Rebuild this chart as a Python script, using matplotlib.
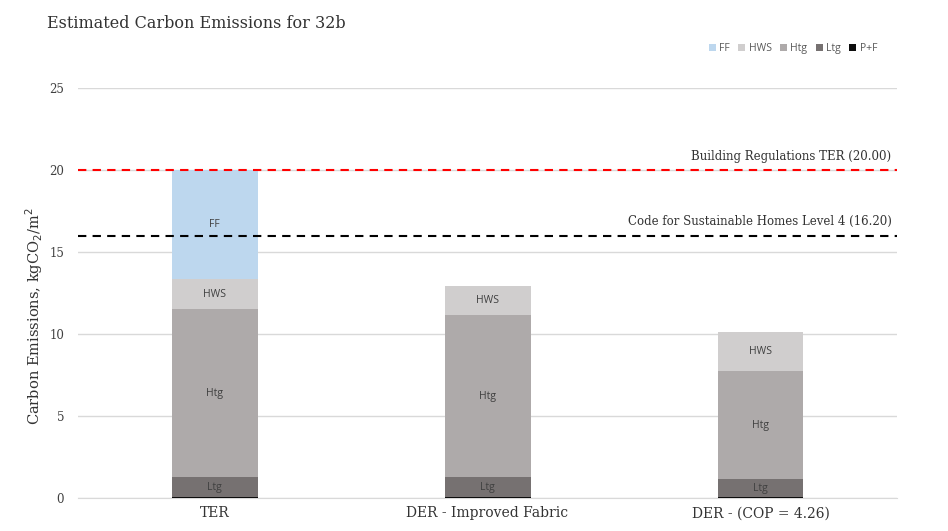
import matplotlib
matplotlib.use("Agg")
import matplotlib.pyplot as plt
import numpy as np

categories = ["TER", "DER - Improved Fabric", "DER - (COP = 4.26)"]
series_names = ["P+F", "Ltg", "Htg", "HWS", "FF"]
pf = [0.06, 0.06, 0.06]
ltg = [1.22, 1.2, 1.08]
htg = [10.24, 9.9, 6.6]
hws = [1.83, 1.79, 2.4]
ff = [6.65, 0.0, 0.0]
colors = {"P+F": "#0D0D0D", "Ltg": "#767171", "Htg": "#AEAAAA", "HWS": "#D0CECE", "FF": "#BDD7EE"}
ter_value = 20.0
csh_value = 16.0
ter_label = "Building Regulations TER (20.00)"
csh_label = "Code for Sustainable Homes Level 4 (16.20)"
yticks = [0, 5, 10, 15, 20, 25]

serif = ["DejaVu Serif"]
sans = ["Open Sans", "DejaVu Sans"]

fig = plt.figure(figsize=(9.48, 5.31), dpi=100)
ax = fig.add_axes([0.0823, 0.0621, 0.8639, 0.7721])

x = np.arange(len(categories))
w = 0.315
data = {"P+F": pf, "Ltg": ltg, "Htg": htg, "HWS": hws, "FF": ff}
bottom = np.zeros(len(categories))
handles = {}
for name in series_names:
    vals = np.array(data[name])
    b = ax.bar(x, vals, w, bottom=bottom, color=colors[name], zorder=3, linewidth=0)
    handles[name] = b
    if name != "P+F":
        for i, v in enumerate(vals):
            if v > 0.5:
                ax.text(x[i], bottom[i] + v / 2, name, ha="center", va="center",
                        fontsize=7.5, color="#404040", family=sans, zorder=4)
    bottom += vals

ax.axhline(ter_value, color="#FF0000", linestyle=(0, (4, 3)), linewidth=1.5, zorder=5)
ax.axhline(csh_value, color="#000000", linestyle=(0, (4, 3)), linewidth=1.5, zorder=5)
ax.text(2.48, ter_value + 0.45, ter_label, ha="right", va="bottom", fontsize=8.5,
        color="#333333", family=serif)
ax.text(2.48, csh_value + 0.45, csh_label, ha="right", va="bottom", fontsize=8.5,
        color="#333333", family=serif)

ax.set_xlim(-0.5, 2.5)
ax.set_ylim(0, 25)
ax.set_yticks(yticks)
ax.set_yticklabels([str(t) for t in yticks], family=serif, fontsize=8.5, color="#404040")
ax.set_xticks(x)
ax.set_xticklabels(categories, family=serif, fontsize=10, color="#333333")
ax.tick_params(axis="both", length=0, pad=6)
ax.tick_params(axis="y", pad=10)
ax.grid(axis="y", color="#D9D9D9", linewidth=1, zorder=0)
for s in ["top", "right", "left"]:
    ax.spines[s].set_visible(False)
ax.spines["bottom"].set_color("#D9D9D9")

ax.set_ylabel("Carbon Emissions, kgCO$_2$/m$^2$", family=serif, fontsize=10.5, color="#333333")
ax.yaxis.set_label_coords(-0.040, 0.444)

fig.text(0.05, 0.955, "Estimated Carbon Emissions for 32b", family=serif, fontsize=11.5,
         color="#333333", ha="left", va="center")

leg_order = ["FF", "HWS", "Htg", "Ltg", "P+F"]
leg = fig.legend([handles[n] for n in leg_order], leg_order, loc="center right",
                 bbox_to_anchor=(0.935, 0.908), ncol=5, frameon=False,
                 handlelength=0.7, handleheight=0.7, handletextpad=0.3, columnspacing=0.8,
                 prop={"family": sans, "size": 7.5})
for t in leg.get_texts():
    t.set_color("#595959")

fig.savefig("out.png", dpi=100)
